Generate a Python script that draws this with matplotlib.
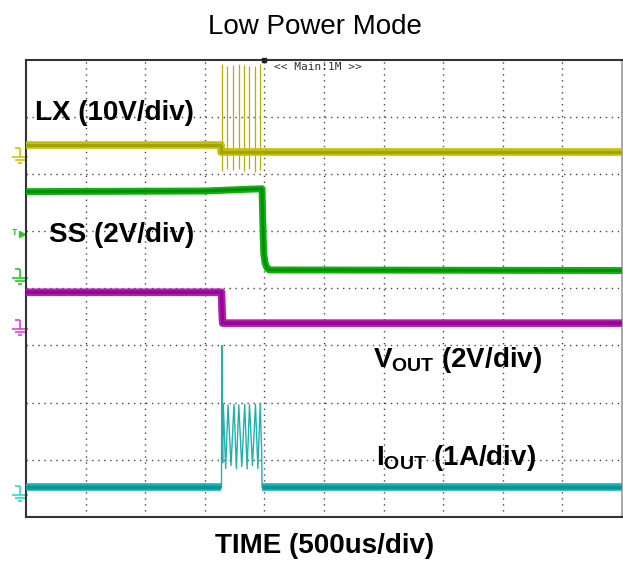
import matplotlib
matplotlib.use("Agg")
import matplotlib.pyplot as plt
from matplotlib.path import Path

# ---------------------------------------------------------
# scope traces in divisions
# (x: 0..10 div at 500us/div, y: 0..8 div)
# ---------------------------------------------------------

# LX (10V/div)
lx_t = [0.0, 3.28, 3.28, 10.0]
lx_v = [6.50, 6.50, 6.38, 6.38]
lx_spike_t = [3.29, 3.37, 3.47, 3.57, 3.66, 3.74, 3.84, 3.93]
lx_spike_hi = [7.92, 7.88, 7.90, 7.92, 7.90, 7.88, 7.89, 7.92]
lx_spike_lo = [6.05, 6.08, 6.06, 6.08, 6.05, 6.09, 6.04, 6.06]

# SS (2V/div)
ss_t = [0.0, 3.0, 3.70, 3.96, 3.97, 3.98, 3.99, 4.01, 4.04, 4.08, 10.0]
ss_v = [5.69, 5.70, 5.73, 5.74, 5.30, 4.90, 4.60, 4.45, 4.36, 4.32, 4.31]

# VOUT (2V/div)
vout_t = [0.0, 3.28, 3.29, 3.30, 10.0]
vout_v = [3.93, 3.93, 3.60, 3.39, 3.39]

# IOUT (1A/div)
iout_t = [0.0, 3.28, 3.285, 3.29, 3.30, 3.31, 3.35, 3.39, 3.44, 3.49, 3.53,
          3.57, 3.62, 3.67, 3.71, 3.75, 3.80, 3.85, 3.89, 3.93, 3.955, 3.96, 10.0]
iout_v = [0.52, 0.52, 3.00, 1.40, 0.95, 1.98, 0.85, 1.96, 0.90, 1.97, 0.85,
          1.96, 0.88, 1.97, 0.84, 1.96, 0.90, 1.97, 0.85, 1.97, 1.10, 0.52, 0.52]

# ground level markers on the left edge
gnd_levels = [6.31, 4.19, 3.30, 0.41]
gnd_colors = ["#c8c800", "#22cc22", "#e040e0", "#30d8d8"]
trig_level = 4.97
trig_pos = 4.0

# ---------------------------------------------------------
# FONTS
# ---------------------------------------------------------
plt.rcParams["font.family"] = ["Liberation Sans", "DejaVu Sans"]
plt.rcParams["mathtext.fontset"] = "custom"
plt.rcParams["mathtext.rm"] = "Liberation Sans"
plt.rcParams["mathtext.bf"] = "Liberation Sans:bold"

fig = plt.figure(figsize=(6.23, 5.61), dpi=100)
ax = fig.add_axes([26 / 623, 1 - 517 / 561, 596 / 623, (517 - 59.5) / 561])

ax.set_xlim(0, 10)
ax.set_ylim(0, 8)

# ---------------------------------------------------------
# GRATICULE
# ---------------------------------------------------------
ax.set_xticks(range(1, 10))
ax.set_yticks(range(1, 8))
ax.tick_params(length=0, labelbottom=False, labelleft=False)
ax.grid(True, color="#444444", linestyle=(0, (1, 3.3)), linewidth=1.0)

for side in ["left", "top", "bottom"]:
    ax.spines[side].set_color("#333333")
    ax.spines[side].set_linewidth(1.5)
ax.spines["right"].set_color("#aaaaaa")
ax.spines["right"].set_linewidth(1.5)

# trigger position marker on top edge
ax.plot([trig_pos], [8], marker="s", markersize=2.5, color="#222222",
        clip_on=False, zorder=6)

# ---------------------------------------------------------
# TRACES
# ---------------------------------------------------------
ax.vlines(lx_spike_t, lx_spike_lo, lx_spike_hi, color="#b4b000", linewidth=0.9, zorder=3)
ax.plot(lx_t, lx_v, color="#c4c000", linewidth=5.5, solid_capstyle="butt", zorder=4)
ax.plot(lx_t, lx_v, color="#a0a000", linewidth=2.0, solid_capstyle="butt", zorder=4)

ax.plot(ss_t, ss_v, color="#10b010", linewidth=5.0, solid_capstyle="butt", zorder=4)
ax.plot(ss_t, ss_v, color="#009000", linewidth=2.0, solid_capstyle="butt", zorder=4)

ax.plot(vout_t, vout_v, color="#b020b0", linewidth=5.5, solid_capstyle="butt", zorder=4)
ax.plot(vout_t, vout_v, color="#9a009a", linewidth=2.5, solid_capstyle="butt", zorder=4)

ax.plot(iout_t, iout_v, color="#20b0b0", linewidth=1.0, zorder=4)
base_t = [iout_t[0], iout_t[1]]
base_v = [iout_v[0], iout_v[1]]
ax.plot(base_t, base_v, color="#20b0b0", linewidth=5.5, solid_capstyle="butt", zorder=4)
ax.plot(base_t, base_v, color="#009898", linewidth=2.5, solid_capstyle="butt", zorder=4)
ax.plot(iout_t[-2:], iout_v[-2:], color="#20b0b0", linewidth=5.5, solid_capstyle="butt", zorder=4)
ax.plot(iout_t[-2:], iout_v[-2:], color="#009898", linewidth=2.5, solid_capstyle="butt", zorder=4)

# ---------------------------------------------------------
# GROUND / TRIGGER SYMBOLS
# ---------------------------------------------------------
gnd_path = Path(
    [(-0.7, 1.0), (0.0, 1.0), (0.0, 1.0), (0.0, -0.1),
     (-1.0, -0.1), (1.0, -0.1), (-0.65, -0.5), (0.65, -0.5),
     (-0.3, -0.9), (0.3, -0.9)],
    [Path.MOVETO, Path.LINETO] * 5,
)
for lvl, col in zip(gnd_levels, gnd_colors):
    ax.plot([-0.10], [lvl], marker=gnd_path, markersize=11, markeredgewidth=1.2,
            markerfacecolor="none", markeredgecolor=col, clip_on=False)

ax.text(-0.19, trig_level, "T", color="#22cc22", fontsize=6.5, fontweight="bold",
        ha="center", va="center", clip_on=False)
ax.plot([-0.07], [trig_level - 0.03], marker=">", markersize=4, color="#22cc22",
        clip_on=False)

# ---------------------------------------------------------
# LABELS
# ---------------------------------------------------------
lab = dict(fontsize=20, fontweight="bold", color="black", ha="left",
           va="baseline", zorder=7)
ax.text(0.15, 6.95, "LX (10V/div)", **lab)
ax.text(0.39, 4.81, "SS (2V/div)", **lab)
ax.text(5.82, 2.63, r"$\mathbf{V}_\mathbf{OUT}$ (2V/div)", **lab)
ax.text(5.88, 0.91, r"$\mathbf{I}_\mathbf{OUT}$ (1A/div)", **lab)

ax.text(4.16, 7.87, "<< Main:1M >>", fontsize=8, family="DejaVu Sans Mono",
        color="#333333", ha="left", va="center")

fig.text(0.506, 1 - 34 / 561, "Low Power Mode", fontsize=20, ha="center", va="baseline")
fig.text(0.521, 1 - 553 / 561, "TIME (500us/div)", fontsize=20, fontweight="bold",
         ha="center", va="baseline")

plt.savefig("out.png", dpi=100)
